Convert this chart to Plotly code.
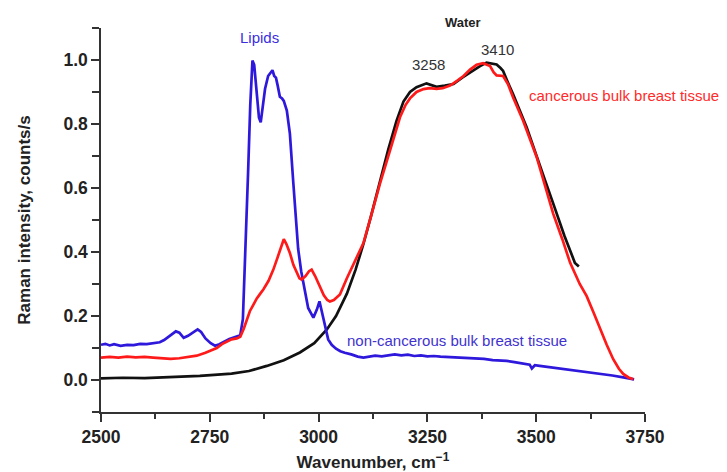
import plotly.graph_objects as go

# ---- data ----
noncancer_wn = [2500, 2510, 2520, 2530, 2545, 2560, 2575, 2590, 2605, 2620, 2635, 2645, 2655, 2665,
                2672, 2680, 2690, 2700, 2712, 2722, 2730, 2740, 2752, 2762, 2772, 2782, 2795, 2810,
                2820, 2826, 2832, 2838, 2843, 2848, 2852, 2857, 2863, 2867, 2872, 2877, 2884, 2890,
                2894, 2898, 2902, 2906, 2911, 2916, 2920, 2927, 2934, 2942, 2948, 2953, 2960, 2965,
                2976, 2988, 2996, 3002, 3008, 3014, 3022, 3030, 3040, 3050, 3060, 3075, 3090, 3103,
                3115, 3130, 3145, 3160, 3175, 3190, 3205, 3220, 3235, 3250, 3265, 3280, 3300, 3320,
                3340, 3360, 3380, 3400, 3415, 3432, 3450, 3470, 3485, 3490, 3497, 3508, 3530, 3550,
                3575, 3600, 3625, 3650, 3675, 3700, 3715, 3725]
noncancer_val = [0.110, 0.113, 0.108, 0.112, 0.107, 0.110, 0.109, 0.113, 0.112, 0.116, 0.118, 0.125,
                 0.135, 0.145, 0.152, 0.148, 0.132, 0.138, 0.150, 0.158, 0.150, 0.130, 0.115, 0.107,
                 0.112, 0.120, 0.128, 0.135, 0.140, 0.190, 0.400, 0.650, 0.860, 0.998, 0.985, 0.910,
                 0.820, 0.805, 0.850, 0.910, 0.950, 0.962, 0.968, 0.950, 0.945, 0.920, 0.885, 0.880,
                 0.872, 0.842, 0.770, 0.614, 0.500, 0.410, 0.340, 0.303, 0.225, 0.195, 0.220, 0.246,
                 0.210, 0.165, 0.127, 0.110, 0.098, 0.090, 0.085, 0.080, 0.073, 0.070, 0.072, 0.076,
                 0.074, 0.078, 0.080, 0.077, 0.079, 0.075, 0.077, 0.074, 0.075, 0.073, 0.072, 0.071,
                 0.070, 0.067, 0.066, 0.062, 0.061, 0.060, 0.056, 0.052, 0.048, 0.036, 0.046, 0.044,
                 0.040, 0.038, 0.034, 0.029, 0.024, 0.020, 0.014, 0.008, 0.004, 0.002]

cancer_wn = [2500, 2520, 2540, 2560, 2580, 2600, 2620, 2640, 2660, 2680, 2700, 2720, 2740, 2755,
             2766, 2778, 2789, 2800, 2812, 2820, 2828, 2835, 2842, 2850, 2858, 2866, 2873, 2885,
             2896, 2905, 2911, 2916, 2920, 2926, 2934, 2942, 2950, 2956, 2961, 2970, 2978, 2984,
             2992, 3003, 3012, 3020, 3026, 3035, 3049, 3065, 3080, 3103, 3120, 3141, 3164, 3187,
             3200, 3210, 3225, 3241, 3255, 3271, 3285, 3302, 3318, 3333, 3348, 3363, 3378, 3394,
             3402, 3409, 3424, 3435, 3447, 3470, 3501, 3520, 3539, 3560, 3578, 3600, 3616, 3632,
             3647, 3662, 3677, 3690, 3700, 3712, 3723]
cancer_val = [0.070, 0.072, 0.070, 0.073, 0.071, 0.072, 0.070, 0.067, 0.066, 0.068, 0.072, 0.076,
              0.085, 0.093, 0.100, 0.112, 0.120, 0.127, 0.130, 0.135, 0.160, 0.190, 0.215, 0.235,
              0.255, 0.270, 0.283, 0.310, 0.345, 0.380, 0.407, 0.430, 0.440, 0.425, 0.397, 0.360,
              0.334, 0.318, 0.314, 0.325, 0.340, 0.345, 0.325, 0.293, 0.265, 0.250, 0.245, 0.250,
              0.267, 0.318, 0.360, 0.428, 0.510, 0.614, 0.717, 0.821, 0.860, 0.880, 0.900, 0.909,
              0.912, 0.910, 0.912, 0.920, 0.935, 0.950, 0.970, 0.985, 0.990, 0.981, 0.962, 0.952,
              0.950, 0.925, 0.883, 0.810, 0.697, 0.610, 0.520, 0.440, 0.366, 0.300, 0.262, 0.210,
              0.158, 0.110, 0.065, 0.035, 0.019, 0.008, 0.002]

water_wn = [2500, 2550, 2600, 2650, 2700, 2727, 2760, 2800, 2840, 2881, 2920, 2957, 2990, 3019,
            3040, 3065, 3085, 3103, 3120, 3141, 3160, 3179, 3195, 3210, 3225, 3248, 3260, 3271,
            3290, 3310, 3330, 3348, 3371, 3386, 3398, 3409, 3418, 3424, 3435, 3447, 3478, 3501,
            3520, 3539, 3565, 3589, 3598]
water_val = [0.005, 0.007, 0.006, 0.008, 0.010, 0.013, 0.016, 0.020, 0.028, 0.044, 0.062, 0.086,
             0.115, 0.158, 0.200, 0.270, 0.345, 0.425, 0.510, 0.620, 0.720, 0.810, 0.870, 0.900,
             0.915, 0.927, 0.922, 0.916, 0.920, 0.925, 0.945, 0.962, 0.981, 0.992, 0.990, 0.986,
             0.975, 0.966, 0.930, 0.893, 0.790, 0.697, 0.625, 0.552, 0.450, 0.366, 0.355]

x_ticks = [2500, 2750, 3000, 3250, 3500, 3750]
x_minor = [2625, 2875, 3125, 3375, 3625]
y_ticks = [0.0, 0.2, 0.4, 0.6, 0.8, 1.0]
y_tick_labels = ["0.0", "0.2", "0.4", "0.6", "0.8", "1.0"]
y_minor = [-0.1, 0.1, 0.3, 0.5, 0.7, 0.9, 1.1]

BLUE = "#2e18dc"
RED = "#ff1a1a"
BLACK = "#111111"
FONT = "Liberation Sans, Arial, sans-serif"

fig = go.Figure()
fig.add_trace(go.Scatter(x=water_wn, y=water_val, mode="lines",
                         line=dict(color=BLACK, width=2.7), showlegend=False))
fig.add_trace(go.Scatter(x=noncancer_wn, y=noncancer_val, mode="lines",
                         line=dict(color=BLUE, width=2.7), showlegend=False))
fig.add_trace(go.Scatter(x=cancer_wn, y=cancer_val, mode="lines",
                         line=dict(color=RED, width=2.7), showlegend=False))

annotations = [
    dict(x=2865, y=1.071, text="Lipids", font=dict(color="#3a2ee0", size=15)),
    dict(x=3331, y=1.118, text="<b>Water</b>", font=dict(color="#222222", size=13)),
    dict(x=3253, y=0.987, text="3258", font=dict(color="#333333", size=15)),
    dict(x=3412, y=1.034, text="3410", font=dict(color="#333333", size=15)),
    dict(x=3479, y=0.888, text="cancerous bulk breast tissue", xanchor="left",
         font=dict(color="#ff2a2a", size=15)),
    dict(x=3061, y=0.124, text="non-cancerous bulk breast tissue", xanchor="left",
         font=dict(color="#3f33d0", size=15)),
]
Y0, Y1 = -0.1, 1.1
for a in annotations:
    a.setdefault("xanchor", "center")
    # vertical position given in data units, converted to paper fraction so that
    # labels above the plot top are not hidden
    a["y"] = (a["y"] - Y0) / (Y1 - Y0)
    a.update(xref="x", yref="paper", showarrow=False, yanchor="middle",
             font=dict(family=FONT, **a["font"]))
    fig.add_annotation(**a)

fig.update_layout(
    width=727, height=472,
    margin=dict(l=101, r=82, t=28, b=60, autoexpand=False),
    paper_bgcolor="white", plot_bgcolor="white",
    font=dict(family=FONT, color="#222222"),
    xaxis=dict(
        range=[2500, 3750], showgrid=False, zeroline=False, automargin=False,
        showline=True, linecolor="#333333", linewidth=1.5,
        tickmode="array", tickvals=x_ticks, ticks="outside", ticklen=8,
        tickwidth=1.5, tickcolor="#333333",
        tickfont=dict(size=17.5, weight="bold", color="#222222"),
        minor=dict(tickmode="array", tickvals=x_minor, ticks="outside", ticklen=5,
                   tickwidth=1.5, tickcolor="#333333"),
        title=dict(text="Wavenumber, cm<sup>\u22121</sup>", standoff=13,
                   font=dict(size=17, weight="bold", color="#222222")),
    ),
    yaxis=dict(
        range=[Y0, Y1], showgrid=False, zeroline=False, automargin=False,
        showline=True, linecolor="#333333", linewidth=1.5,
        tickmode="array", tickvals=y_ticks, ticktext=y_tick_labels,
        ticks="outside", ticklen=8, tickwidth=1.5, tickcolor="#333333",
        tickfont=dict(size=17.5, weight="bold", color="#222222"),
        minor=dict(tickmode="array", tickvals=y_minor, ticks="outside", ticklen=7,
                   tickwidth=1.5, tickcolor="#333333"),
        title=dict(text="Raman intensity, counts/s", standoff=28,
                   font=dict(size=17, weight="bold", color="#222222")),
    ),
)

fig.write_html("out.html", config={"displayModeBar": False},
               post_script="document.body.style.margin='0';document.body.style.overflow='hidden';")
